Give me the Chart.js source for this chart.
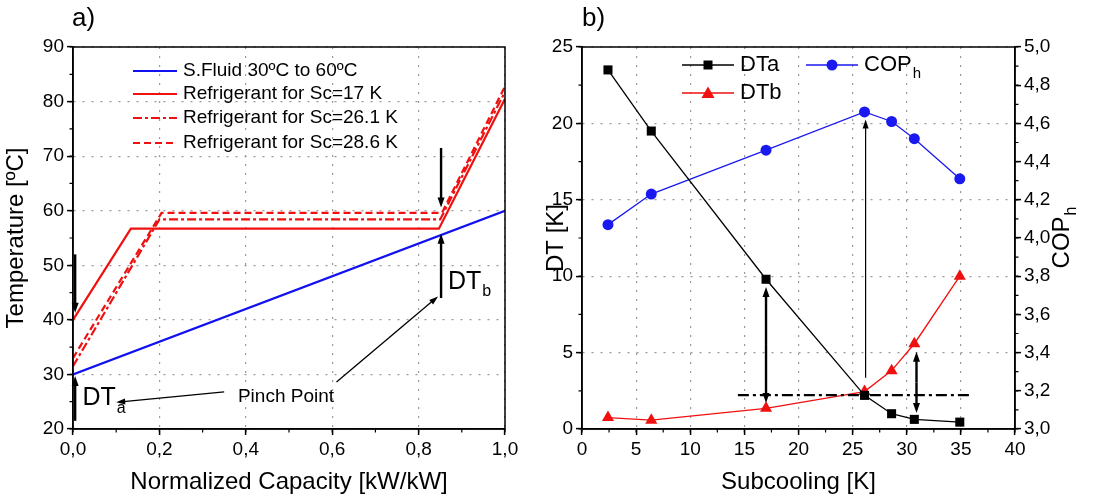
<!DOCTYPE html>
<html>
<head>
<meta charset="utf-8">
<script src="https://cdn.jsdelivr.net/npm/chart.js@4.4.1/dist/chart.umd.min.js"></script>
<style>
html, body { margin: 0; padding: 0; background: #fff; }
#wrap { position: relative; width: 1098px; height: 500px; overflow: hidden; }
canvas { position: absolute; top: 0; }
#chart-a { left: 0; }
#chart-b { left: 540px; }
</style>
</head>
<body>
<div id="wrap">
	<canvas id="chart-a" width="540" height="500"></canvas>
	<canvas id="chart-b" width="558" height="500"></canvas>
</div>
<script>
// a) temperature profiles
const capFluid = [0, 1];
const tempFluid = [30, 60];
const capSc17 = [0, 0.134, 0.847, 1];
const tempSc17 = [40, 56.7, 56.7, 80.5];
const capSc261 = [0, 0.2, 0.85, 1];
const tempSc261 = [31.5, 58.4, 58.4, 81.8];
const capSc286 = [0, 0.205, 0.854, 1];
const tempSc286 = [33, 59.6, 59.6, 82.8];
const capTicks = [0, 0.2, 0.4, 0.6, 0.8, 1];
const tempTicks = [20, 30, 40, 50, 60, 70, 80, 90];

// b) subcooling study
const subcooling = [2.4, 6.4, 17, 26.1, 28.6, 30.7, 34.9];
const dtA = [23.5, 19.5, 9.8, 2.2, 1.0, 0.63, 0.45];
const dtB = [0.75, 0.58, 1.35, 2.45, 3.82, 5.58, 10.0];
const copH = [4.07, 4.23, 4.46, 4.66, 4.61, 4.52, 4.31];
const scTicks = [0, 5, 10, 15, 20, 25, 30, 35, 40];
const dtTicks = [0, 5, 10, 15, 20, 25];
const copTicks = [3, 3.2, 3.4, 3.6, 3.8, 4, 4.2, 4.4, 4.6, 4.8, 5];

const FONT = '"Liberation Sans", Arial, sans-serif';
Chart.defaults.font.family = FONT;
Chart.defaults.color = "#000";

const pts = (xs, ys) => xs.map((x, i) => ({ x: x, y: ys[i] }));
const comma = (v) => v.toFixed(1).replace(".", ",");

function axis(ticks, title, fmt, size) {
	return {
		type: "linear",
		min: ticks[0],
		max: ticks[ticks.length - 1],
		afterBuildTicks: (s) => {
			s.ticks = ticks.map((v) => ({ value: v }));
		},
		afterFit: (s) => {
			if (s.isHorizontal()) s.height = size;
			else s.width = size;
		},
		ticks: { font: { size: 19 }, color: "#000", padding: 3, callback: fmt },
		grid: {
			color: "#9a9a9a",
			lineWidth: 1.2,
			tickLength: 6,
			tickWidth: 1.5,
			tickColor: "#000",
		},
		border: { color: "#000", width: 1.5, dash: [2, 7] },
		title: {
			display: title != "",
			text: title,
			font: { size: 24, lineHeight: 1 },
			padding: { top: 4, bottom: 6 },
		},
	};
}

function arrow(ctx, x1, y1, x2, y2, w, hl, hw) {
	const a = Math.atan2(y2 - y1, x2 - x1);
	ctx.save();
	ctx.strokeStyle = "#000";
	ctx.fillStyle = "#000";
	ctx.lineWidth = w;
	ctx.beginPath();
	ctx.moveTo(x1, y1);
	ctx.lineTo(x2 - hl * 0.8 * Math.cos(a), y2 - hl * 0.8 * Math.sin(a));
	ctx.stroke();
	ctx.translate(x2, y2);
	ctx.rotate(a);
	ctx.beginPath();
	ctx.moveTo(0, 0);
	ctx.lineTo(-hl, -hw);
	ctx.lineTo(-hl, hw);
	ctx.closePath();
	ctx.fill();
	ctx.restore();
}

function subText(ctx, main, sub, x, y, size, subSize, align) {
	ctx.save();
	ctx.fillStyle = "#000";
	ctx.textBaseline = "middle";
	ctx.textAlign = "left";
	ctx.font = size + "px " + FONT;
	const w = ctx.measureText(main).width;
	ctx.font = subSize + "px " + FONT;
	const ws = ctx.measureText(sub).width;
	const x0 = align == "center" ? x - (w + ws) / 2 : x;
	ctx.font = size + "px " + FONT;
	ctx.fillText(main, x0, y);
	ctx.font = subSize + "px " + FONT;
	ctx.fillText(sub, x0 + w + 1, y + size * 0.4);
	ctx.restore();
}

function plainText(ctx, str, x, y, size, align) {
	ctx.save();
	ctx.fillStyle = "#000";
	ctx.textBaseline = "middle";
	ctx.textAlign = align;
	ctx.font = size + "px " + FONT;
	ctx.fillText(str, x, y);
	ctx.restore();
}

function minorTicks(ctx, scale, step, side) {
	ctx.save();
	ctx.strokeStyle = "#000";
	ctx.lineWidth = 1.2;
	ctx.beginPath();
	for (let v = scale.min; v <= scale.max + 1e-9; v += step) {
		const p = scale.getPixelForValue(v);
		if (side == "bottom") {
			ctx.moveTo(p, scale.top);
			ctx.lineTo(p, scale.top + 3.5);
		} else if (side == "left") {
			ctx.moveTo(scale.right, p);
			ctx.lineTo(scale.right - 3.5, p);
		} else {
			ctx.moveTo(scale.left, p);
			ctx.lineTo(scale.left + 3.5, p);
		}
	}
	ctx.stroke();
	ctx.restore();
}

function frame(ctx, area) {
	ctx.save();
	ctx.strokeStyle = "#000";
	ctx.lineWidth = 1.5;
	ctx.strokeRect(area.left, area.top, area.right - area.left, area.bottom - area.top);
	ctx.restore();
}

function marker(ctx, style, x, y, color) {
	ctx.save();
	ctx.fillStyle = color;
	ctx.beginPath();
	if (style == "rect") {
		ctx.rect(x - 4.5, y - 4.5, 9, 9);
	} else if (style == "triangle") {
		ctx.moveTo(x, y - 6.5);
		ctx.lineTo(x + 6.5, y + 5);
		ctx.lineTo(x - 6.5, y + 5);
		ctx.closePath();
	} else {
		ctx.arc(x, y, 5.5, 0, Math.PI * 2);
	}
	ctx.fill();
	ctx.restore();
}

function legendLine(ctx, x1, x2, y, color, dash) {
	ctx.save();
	ctx.strokeStyle = color;
	ctx.lineWidth = 2.2;
	ctx.setLineDash(dash);
	ctx.beginPath();
	ctx.moveTo(x1, y);
	ctx.lineTo(x2, y);
	ctx.stroke();
	ctx.restore();
}

const decorA = {
	id: "decorA",
	afterDatasetsDraw(chart) {
		const { ctx, chartArea, scales } = chart;
		const X = (v) => scales.x.getPixelForValue(v);
		const Y = (v) => scales.y.getPixelForValue(v);

		frame(ctx, chartArea);
		minorTicks(ctx, scales.x, 0.1, "bottom");
		minorTicks(ctx, scales.y, 5, "left");

		// legend
		const rows = [71, 94, 118, 143];
		chart.data.datasets.forEach((ds, i) => {
			legendLine(ctx, 133, 177, rows[i], ds.borderColor, ds.borderDash || []);
			plainText(ctx, ds.label, 183, rows[i], 19, "left");
		});

		// pinch point marks
		arrow(ctx, X(0.005), Y(52), X(0.005), Y(41.3), 2.4, 10, 3.5);
		arrow(ctx, X(0.005), Y(21.5), X(0.005), Y(29.7), 2.4, 10, 3.5);
		arrow(ctx, X(0.852), Y(71.5), X(0.852), Y(60.6), 2.4, 10, 3.5);
		arrow(ctx, X(0.852), Y(44), X(0.852), Y(55.8), 2.4, 10, 3.5);
		arrow(ctx, X(0.35), Y(26.8), X(0.1), Y(24.9), 1.3, 9, 3);
		arrow(ctx, X(0.61), Y(28.6), X(0.845), Y(44.3), 1.3, 9, 3);
		plainText(ctx, "Pinch Point", X(0.493), Y(25.9), 19, "center");
		subText(ctx, "DT", "a", X(0.022), Y(25.6), 25, 16, "left");
		subText(ctx, "DT", "b", X(0.868), Y(47), 25, 16, "left");

		plainText(ctx, "a)", 72, 19, 26, "left");
	},
};

const decorB = {
	id: "decorB",
	afterDatasetsDraw(chart) {
		const { ctx, chartArea, scales } = chart;
		const X = (v) => scales.x.getPixelForValue(v);
		const Y = (v) => scales.y.getPixelForValue(v);
		const Y2 = (v) => scales.y2.getPixelForValue(v);

		frame(ctx, chartArea);
		minorTicks(ctx, scales.x, 2.5, "bottom");
		minorTicks(ctx, scales.y, 2.5, "left");
		minorTicks(ctx, scales.y2, 0.1, "right");

		// common DT level
		ctx.save();
		ctx.strokeStyle = "#000";
		ctx.lineWidth = 2.4;
		ctx.setLineDash([11, 4, 3, 4]);
		ctx.beginPath();
		ctx.moveTo(X(14.4), Y(2.22));
		ctx.lineTo(X(36.1), Y(2.22));
		ctx.stroke();
		ctx.restore();

		arrow(ctx, X(26.2), Y(3.35), X(26.2), Y2(4.62), 1.2, 9, 3);
		[[17, 9.3, 1.7], [30.9, 5.06, 1.05]].forEach((a) => {
			const mid = (Y(a[1]) + Y(a[2])) / 2;
			arrow(ctx, X(a[0]), mid, X(a[0]), Y(a[1]), 2.4, 10, 3.5);
			arrow(ctx, X(a[0]), mid, X(a[0]), Y(a[2]), 2.4, 10, 3.5);
		});

		// legend
		const ds = chart.data.datasets;
		const items = [
			[ds[0], 142, 65],
			[ds[1], 142, 93],
			[ds[2], 266, 65],
		];
		items.forEach((it) => {
			const d = it[0];
			ctx.save();
			ctx.strokeStyle = d.borderColor;
			ctx.lineWidth = 1.3;
			ctx.beginPath();
			ctx.moveTo(it[1], it[2]);
			ctx.lineTo(it[1] + 52, it[2]);
			ctx.stroke();
			ctx.restore();
			marker(ctx, d.pointStyle, it[1] + 26, it[2], d.borderColor);
		});
		plainText(ctx, ds[0].label, 200, 65, 22, "left");
		plainText(ctx, ds[1].label, 200, 93, 22, "left");
		subText(ctx, "COP", "h", 324, 65, 22, 15, "left");

		// right axis title
		ctx.save();
		ctx.translate(522, (chartArea.top + chartArea.bottom) / 2);
		ctx.rotate(-Math.PI / 2);
		subText(ctx, "COP", "h", 0, 0, 24, 16, "center");
		ctx.restore();

		plainText(ctx, "b)", 42, 19, 26, "left");
	},
};

new Chart(document.getElementById("chart-a"), {
	type: "scatter",
	data: {
		datasets: [
			{
				label: "S.Fluid 30ºC to 60ºC",
				data: pts(capFluid, tempFluid),
				borderColor: "#1010f0",
			},
			{
				label: "Refrigerant for Sc=17 K",
				data: pts(capSc17, tempSc17),
				borderColor: "#f01010",
			},
			{
				label: "Refrigerant for Sc=26.1 K",
				data: pts(capSc261, tempSc261),
				borderColor: "#f01010",
				borderDash: [9, 3, 3, 3],
			},
			{
				label: "Refrigerant for Sc=28.6 K",
				data: pts(capSc286, tempSc286),
				borderColor: "#f01010",
				borderDash: [7, 4],
			},
		].map((d) => Object.assign(d, { showLine: true, pointRadius: 0, borderWidth: 2.2 })),
	},
	options: {
		responsive: false,
		animation: false,
		devicePixelRatio: 1,
		layout: { padding: { top: 47, right: 35, left: 0, bottom: 0 } },
		plugins: { legend: { display: false }, tooltip: { enabled: false } },
		scales: {
			x: axis(capTicks, "Normalized Capacity [kW/kW]", comma, 71),
			y: Object.assign(axis(tempTicks, "Temperature [ºC]", (v) => v, 73), {}),
		},
	},
	plugins: [decorA],
});

const scalesB = {
	x: axis(scTicks, "Subcooling [K]", (v) => v, 71),
	y: axis(dtTicks, "DT [K]", (v) => v, 42),
	y2: axis(copTicks, "", comma, 83),
};
scalesB.y.title.padding = { top: 4 };
scalesB.y2.position = "right";
scalesB.y2.grid.drawOnChartArea = false;
scalesB.y2.title.display = false;
scalesB.y.title.padding = { top: 4 };
scalesB.x.title.padding = { top: 0, bottom: 6 };

new Chart(document.getElementById("chart-b"), {
	type: "scatter",
	data: {
		datasets: [
			{
				label: "DTa",
				data: pts(subcooling, dtA),
				borderColor: "#000000",
				backgroundColor: "#000000",
				pointStyle: "rect",
				pointRadius: 6.4,
				yAxisID: "y",
			},
			{
				label: "DTb",
				data: pts(subcooling, dtB),
				borderColor: "#f01010",
				backgroundColor: "#f01010",
				pointStyle: "triangle",
				pointRadius: 7,
				yAxisID: "y",
			},
			{
				label: "COP",
				data: pts(subcooling, copH),
				borderColor: "#1a1af0",
				backgroundColor: "#1a1af0",
				pointStyle: "circle",
				pointRadius: 5.5,
				yAxisID: "y2",
			},
		].map((d) => Object.assign(d, { showLine: true, borderWidth: 1.3, pointBorderWidth: 0 })),
	},
	options: {
		responsive: false,
		animation: false,
		devicePixelRatio: 1,
		layout: { padding: { top: 47, right: 0, left: 0, bottom: 0 } },
		plugins: { legend: { display: false }, tooltip: { enabled: false } },
		scales: scalesB,
	},
	plugins: [decorB],
});
</script>
</body>
</html>
